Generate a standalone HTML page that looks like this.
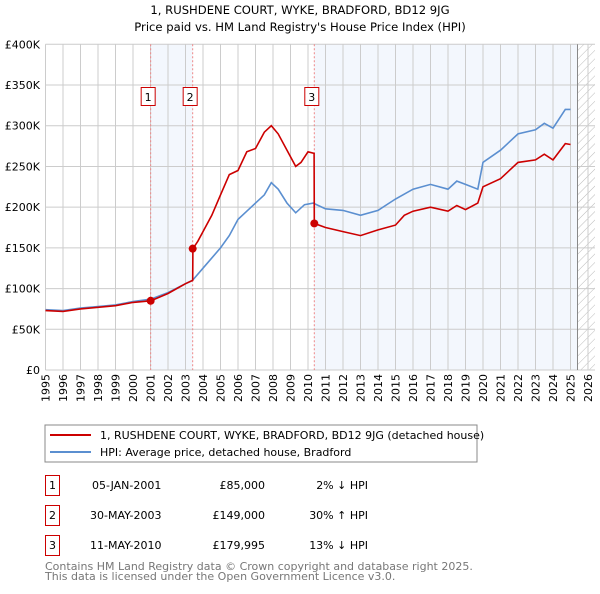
<!DOCTYPE html>
<html><head><meta charset="utf-8"><style>
body{margin:0;background:#fff;font-family:"DejaVu Sans","Liberation Sans",sans-serif;}
svg text{font-family:"DejaVu Sans","Liberation Sans",sans-serif;}
</style></head><body>
<svg id="c" width="600" height="590" xmlns="http://www.w3.org/2000/svg">
<defs><pattern id="hatch" width="6" height="6" patternUnits="userSpaceOnUse" patternTransform="rotate(45)"><line x1="0" y1="0" x2="0" y2="6" stroke="#bbb" stroke-width="1"/></pattern></defs>
<text x="300" y="14" text-anchor="middle" font-size="11.6">1, RUSHDENE COURT, WYKE, BRADFORD, BD12 9JG</text>
<text x="300" y="31" text-anchor="middle" font-size="11.6">Price paid vs. HM Land Registry's House Price Index (HPI)</text>
<g id="plot"></g>
<rect x="45" y="425" width="432" height="37" fill="#fff" stroke="#888"/>
<line x1="50" y1="435" x2="91" y2="435" stroke="#cc0000" stroke-width="2"/>
<text x="100" y="439" font-size="11">1, RUSHDENE COURT, WYKE, BRADFORD, BD12 9JG (detached house)</text>
<line x1="50" y1="452" x2="91" y2="452" stroke="#5b8fd0" stroke-width="2"/>
<text x="100" y="456" font-size="11">HPI: Average price, detached house, Bradford</text>
<g font-size="11">
<rect x="45.5" y="475.5" width="14" height="20" fill="#fff" stroke="#cc0000"/><text x="52.5" y="489" text-anchor="middle">1</text>
<text x="92" y="489">05-JAN-2001</text><text x="265" y="489" text-anchor="end">£85,000</text><text x="368" y="489" text-anchor="end">2% ↓ HPI</text>
<rect x="45.5" y="505.5" width="14" height="20" fill="#fff" stroke="#cc0000"/><text x="52.5" y="519" text-anchor="middle">2</text>
<text x="90" y="519">30-MAY-2003</text><text x="265" y="519" text-anchor="end">£149,000</text><text x="368" y="519" text-anchor="end">30% ↑ HPI</text>
<rect x="45.5" y="535.5" width="14" height="20" fill="#fff" stroke="#cc0000"/><text x="52.5" y="549" text-anchor="middle">3</text>
<text x="90" y="549">11-MAY-2010</text><text x="265" y="549" text-anchor="end">£179,995</text><text x="368" y="549" text-anchor="end">13% ↓ HPI</text>
</g>
<text x="45" y="570" font-size="11" fill="#777">Contains HM Land Registry data © Crown copyright and database right 2025.</text>
<text x="45" y="580" font-size="11" fill="#777">This data is licensed under the Open Government Licence v3.0.</text>
</svg>
<script>
const redYears=[1995,1996,1997,1998,1999,2000,2001.01,2002,2003,2003.41,2003.42,2003.7,2004,2004.5,2005,2005.5,2006,2006.5,2007,2007.5,2007.9,2008.3,2008.8,2009.3,2009.6,2010,2010.35,2010.36,2011,2012,2013,2014,2015,2015.5,2016,2017,2018,2018.5,2019,2019.7,2020,2021,2022,2023,2023.5,2024,2024.7,2025];
const redVals=[73,72,75,77,79,83,85,94,106,110,149,158,170,190,215,240,245,268,272,292,300,290,270,250,255,268,266,180,175,170,165,172,178,190,195,200,195,202,197,205,225,235,255,258,265,258,278,277];
const hpiYears=[1995,1996,1997,1998,1999,2000,2001,2002,2003,2003.4,2004,2005,2005.5,2006,2006.5,2007,2007.5,2007.9,2008.3,2008.8,2009.3,2009.8,2010.3,2011,2012,2013,2014,2015,2016,2017,2018,2018.5,2019,2019.7,2020,2021,2022,2023,2023.5,2024,2024.7,2025];
const hpiVals=[74,73,76,78,80,84,87,95,106,110,125,150,165,185,195,205,215,230,222,205,193,203,205,198,196,190,196,210,222,228,222,232,228,222,255,270,290,295,303,297,320,320];
const saleLabels=["1","2","3"];
const saleYears=[2001.01,2003.41,2010.36];
const saleVals=[85,149,179.995];
const yTicks=[0,50,100,150,200,250,300,350,400];
const yTickLabels=["£0","£50K","£100K","£150K","£200K","£250K","£300K","£350K","£400K"];
const xTicks=[];for(let y=1995;y<=2026;y++)xTicks.push(y);
const L=45.5,R=595,T=44.3,B=370;
const X=y=>L+(y-1995)*17.5, Y=v=>B-(v/400)*(B-T);
const g=document.getElementById('plot'),NS='http://www.w3.org/2000/svg';
function mk(t,a,p){const e=document.createElementNS(NS,t);for(const k in a)e.setAttribute(k,a[k]);(p||g).appendChild(e);return e;}
let e;
e=mk('rect',{x:X(2001.01),y:T,width:X(2003.41)-X(2001.01),height:B-T,fill:'#eef3fc',opacity:0.7});

e=mk('rect',{x:X(2010.36),y:T,width:X(2025.4)-X(2010.36),height:B-T,fill:'#eef3fc',opacity:0.7});

e=mk('rect',{x:X(2025.4),y:T,width:R-X(2025.4),height:B-T,fill:'url(#hatch)'});

xTicks.forEach(y=>{e=mk('line',{x1:X(y),x2:X(y),y1:T,y2:B,stroke:'#ccc'});

e=mk('text',{x:0,y:0,transform:`translate(${X(y)+4},${B+4}) rotate(-90)`,'text-anchor':'end','font-size':11});e.textContent=y;
});
yTicks.forEach((v,i)=>{e=mk('line',{x1:L,x2:R,y1:Y(v),y2:Y(v),stroke:'#ccc'});

e=mk('text',{x:40,y:Y(v)+4,'text-anchor':'end','font-size':11});e.textContent=yTickLabels[i];
});
e=mk('line',{x1:X(2025.4),x2:X(2025.4),y1:T,y2:B,stroke:'#888'});

saleYears.forEach((y,i)=>{e=mk('line',{x1:X(y),x2:X(y),y1:T,y2:B,stroke:'#e88','stroke-dasharray':'2,2'});
});
const pts=(xs,vs)=>xs.map((x,i)=>X(x).toFixed(1)+','+Y(vs[i]).toFixed(1)).join(' ');
e=mk('polyline',{points:pts(hpiYears,hpiVals),fill:'none',stroke:'#5b8fd0','stroke-width':1.6});

e=mk('polyline',{points:pts(redYears,redVals),fill:'none',stroke:'#cc0000','stroke-width':1.6});

saleYears.forEach((y,i)=>{e=mk('circle',{cx:X(y),cy:Y(saleVals[i]),r:4,fill:'#cc0000'});

const bx=X(y)-9.5;
e=mk('rect',{x:bx,y:87.5,width:14,height:18,fill:'#fff',stroke:'#cc0000'});

e=mk('text',{x:bx+7,y:101,'text-anchor':'middle','font-size':11});e.textContent=saleLabels[i];
});
</script>
</body></html>
